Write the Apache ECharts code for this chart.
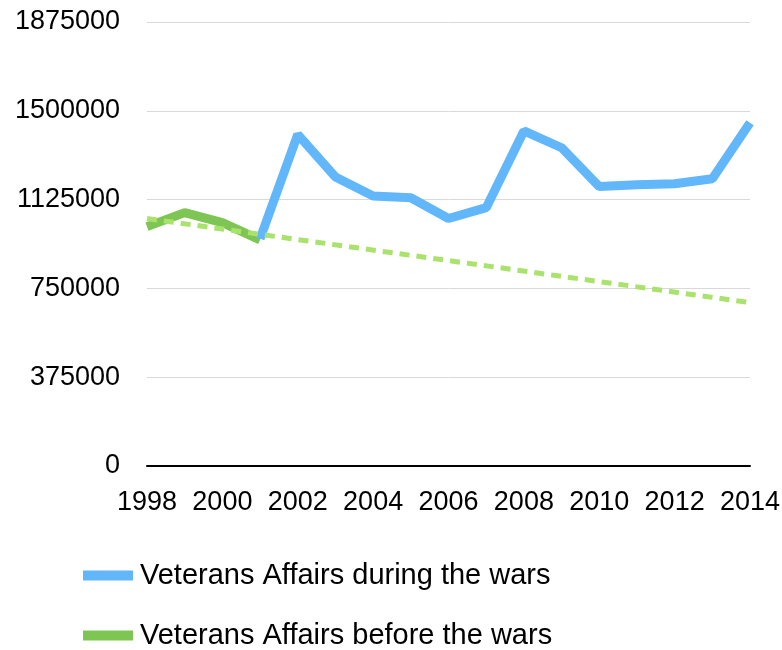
<!DOCTYPE html>
<html>
<head>
<meta charset="utf-8">
<script src="https://cdn.jsdelivr.net/npm/echarts@6/dist/echarts.min.js"></script>
<style>
  html, body { margin: 0; padding: 0; background: #fff; }
  #chart { width: 782px; height: 650px; }
</style>
</head>
<body>
<div id="chart"></div>
<script>
var years = ['1998', '1999', '2000', '2001', '2002', '2003', '2004', '2005', '2006',
             '2007', '2008', '2009', '2010', '2011', '2012', '2013', '2014'];
var duringWars = [null, null, null, 960000, 1400000, 1220000, 1140000, 1133000, 1045000,
                  1091000, 1415000, 1344000, 1180000, 1188000, 1192000, 1213000, 1450000];
var beforeWars = [1011000, 1070000, 1028000, 955000, null, null, null, null, null,
                  null, null, null, null, null, null, null, null];
var trendYears = ['1998', '2014'];
var trendValues = [1045000, 690000];

var duringName = 'Veterans Affairs during the wars';
var beforeName = 'Veterans Affairs before the wars';

window.onload = function () {
    var chart = echarts.init(document.getElementById('chart'));

    var legendBase = {
        left: 83,
        padding: 0,
        icon: 'rect',
        itemWidth: 50,
        itemHeight: 10,
        itemGap: 0,
        textStyle: { fontFamily: 'Liberation Sans, Arial', fontSize: 29, color: '#000', padding: [0, 0, 0, 2] }
    };

    var option = {
        animation: false,
        grid: { left: 147, right: 32, top: 22, bottom: 184, outerBoundsMode: 'none' },
        legend: [
            Object.assign({}, legendBase, { top: 561, data: [{ name: duringName, icon: 'rect' }] }),
            Object.assign({}, legendBase, { top: 621, data: [{ name: beforeName, icon: 'rect' }] })
        ],
        xAxis: {
            type: 'category',
            data: years,
            boundaryGap: false,
            axisLine: { lineStyle: { color: '#000', width: 2 } },
            axisTick: { show: false },
            axisLabel: {
                interval: 1,
                margin: 23,
                color: '#000',
                fontSize: 27,
                fontFamily: 'Liberation Sans, Arial'
            }
        },
        yAxis: {
            type: 'value',
            min: 0,
            max: 1875000,
            interval: 375000,
            axisLine: { show: false },
            axisTick: { show: false },
            splitLine: { lineStyle: { color: '#d9d9d9', width: 1 } },
            axisLabel: {
                margin: 27,
                color: '#000',
                fontSize: 27,
                fontFamily: 'Liberation Sans, Arial',
                formatter: function (v) { return String(v); }
            }
        },
        series: [
            {
                name: beforeName,
                type: 'line',
                data: beforeWars,
                symbol: 'none',
                itemStyle: { color: '#7ec653' },
                lineStyle: { width: 9, color: '#7ec653' }
            },
            {
                name: duringName,
                type: 'line',
                data: duringWars,
                symbol: 'none',
                itemStyle: { color: '#62b7fb' },
                lineStyle: { width: 9, color: '#62b7fb' }
            },
            {
                name: 'trend',
                type: 'line',
                data: trendYears.map(function (y, i) { return [y, trendValues[i]]; }),
                symbol: 'none',
                silent: true,
                lineStyle: { width: 5, color: '#a9e26d', type: [10, 7] }
            }
        ]
    };

    chart.setOption(option);
};
</script>
</body>
</html>
